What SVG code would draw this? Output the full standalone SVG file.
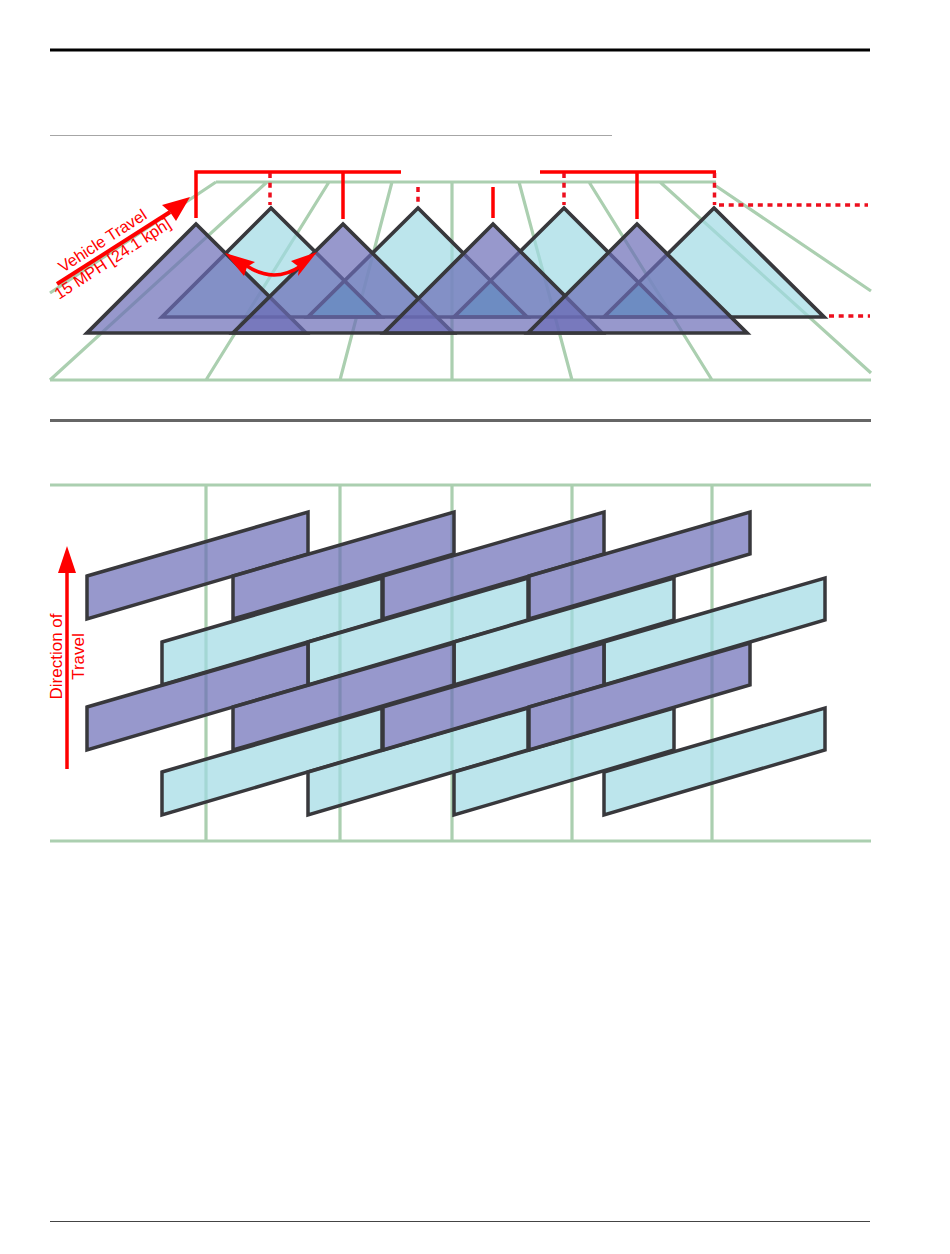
<svg xmlns="http://www.w3.org/2000/svg" width="950" height="1254" viewBox="0 0 950 1254">
<style>
.g{fill:none;stroke:#abcfb0;stroke-width:3.2}
.c{fill:#a0dae4;fill-opacity:.7;stroke:none}
.co{fill:none;stroke:#38383c;stroke-width:3.7}
.p{fill:#6b6cb6;fill-opacity:.7;stroke:#38383c;stroke-width:3.7}
.pr{fill:#6b6cb6;fill-opacity:.7;stroke:#38383c;stroke-width:3.5}
.cr{fill:#a0dae4;fill-opacity:.7;stroke:#38383c;stroke-width:3.5}
.x{fill:#72d6de;stroke:none}
.r{fill:none;stroke:#f00;stroke-width:3.5}
.d{fill:none;stroke:#ed0f1e;stroke-width:3.5;stroke-dasharray:5 4.700}
.a{fill:#f00;stroke:none}
.t{font-family:"Liberation Sans",Arial,sans-serif;font-size:16.300px;fill:#f00}
.u{font-family:"Liberation Sans",Arial,sans-serif;font-size:17px;fill:#f00}
</style>
<rect width="950" height="1254" fill="#fff"/>
<g id="rules">
<line x1="50" y1="50" x2="870" y2="50" stroke="#000" stroke-width="3"/>
<line x1="50" y1="135.500" x2="612" y2="135.500" stroke="#a6a6a6" stroke-width="1"/>
<line x1="50" y1="420.500" x2="871" y2="420.500" stroke="#666" stroke-width="3"/>
<line x1="50" y1="1221.500" x2="870" y2="1221.500" stroke="#444" stroke-width="1"/>
</g>
<g id="grid-top">
<path class="g" d="M50 380H871M216 182H716M216 182L50 293M267 182L50 380M329 182L206 380M392 182L340 380M452 182V380M519 182L572 380M589 182L712 380M660 182L871 373M716 186L871 291"/>
</g>
<g id="grid-bottom">
<path class="g" d="M50 485H871M50 841H871M206 485V841M340 485V841M452 485V841M572 485V841M712 485V841"/>
</g>
<g id="cyan-triangles">
<polygon class="c" points="271,208 381,317 162,317"/>
<polygon class="c" points="418,208 527,317 308,317"/>
<polygon class="c" points="564,208 673,317 454,317"/>
<polygon class="c" points="714,208 824,317 604,317"/>
</g>
<g id="cyan-overlaps">
<polygon class="x" points="344.500,281 381,317 308,317"/>
<polygon class="x" points="490.500,281 527,317 454,317"/>
<polygon class="x" points="638.500,283 673,317 604,317"/>
</g>
<g id="cyan-outlines">
<polygon class="co" points="271,208 381,317 162,317"/>
<polygon class="co" points="418,208 527,317 308,317"/>
<polygon class="co" points="564,208 673,317 454,317"/>
<polygon class="co" points="714,208 824,317 604,317"/>
</g>
<g id="purple-triangles">
<polygon class="p" points="196,224 306,333 87,333"/>
<polygon class="p" points="343,224 453,333 233,333"/>
<polygon class="p" points="493,224 602,333 384,333"/>
<polygon class="p" points="637,224 747,333 528,333"/>
</g>
<g id="cyan-bars">
<polygon class="cr" points="162,642 382,578 382,620 162,685"/>
<polygon class="cr" points="308,642 528,578 528,620 308,685"/>
<polygon class="cr" points="454,642 674,578 674,620 454,685"/>
<polygon class="cr" points="604,642 825,578 825,620 604,685"/>
<polygon class="cr" points="162,772 382,708 382,750 162,815"/>
<polygon class="cr" points="308,772 528,708 528,750 308,815"/>
<polygon class="cr" points="454,772 674,708 674,750 454,815"/>
<polygon class="cr" points="604,772 825,708 825,750 604,815"/>
</g>
<g id="purple-bars">
<polygon class="pr" points="87,576 308,512 308,554 87,619"/>
<polygon class="pr" points="233,576 454,512 454,554 233,619"/>
<polygon class="pr" points="383,576 604,512 604,554 383,619"/>
<polygon class="pr" points="529,576 750,512 750,554 529,619"/>
<polygon class="pr" points="87,707 308,643 308,685 87,750"/>
<polygon class="pr" points="233,707 454,643 454,685 233,750"/>
<polygon class="pr" points="383,707 604,643 604,685 383,750"/>
<polygon class="pr" points="529,707 750,643 750,685 529,750"/>
</g>
<g id="connectors">
<path class="r" d="M196 218V172H401M343 172V219"/>
<path class="r" d="M540 172H716M637 172V219M493 187V218"/>
<path class="d" d="M270 173V205M418 187V205M564 173V205M714.500 173V205M719 205H868M829 316H870"/>
<path class="r" d="M57 284L170 212" style="stroke-width:4"/>
<polygon class="a" points="190,197 162,205 170,212 176,221"/>
<path class="r" d="M247 266Q274 284 301 266"/>
<polygon class="a" points="225,253 255,262 247,267 244,276"/>
<polygon class="a" points="317,252 291,261 299,267 298,276"/>
<line class="r" x1="67" y1="769" x2="67" y2="570"/>
<polygon class="a" points="67,546 76,573 58,573"/>
</g>
<g id="labels">
<text class="t" transform="translate(63 273) rotate(-33)">Vehicle Travel</text>
<text class="t" transform="translate(59 300) rotate(-33)">15 MPH [24.1 kph]</text>
<text class="u" transform="translate(62 656.500) rotate(-90)" text-anchor="middle">Direction of</text>
<text class="u" transform="translate(84 656.500) rotate(-90)" text-anchor="middle">Travel</text>
</g>
</svg>
